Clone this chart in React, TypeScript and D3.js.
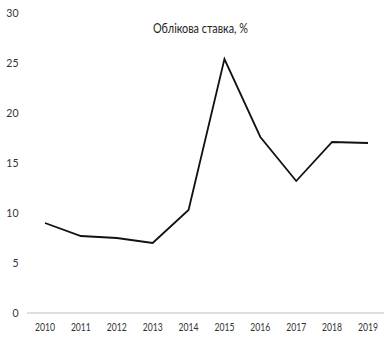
import React from "react";
import * as d3 from "d3";

const years = ["2010", "2011", "2012", "2013", "2014", "2015", "2016", "2017", "2018", "2019"];
const rates = [9.0, 7.7, 7.5, 7.0, 10.3, 25.4, 17.6, 13.2, 17.1, 17.0];
const yTicks = [0, 5, 10, 15, 20, 25, 30];
const title = "Облікова ставка, %";

export default function App() {
  const W = 384, H = 340;
  const x = d3.scalePoint<string>().domain(years).range([45, 368]);
  const y = d3.scaleLinear().domain([0, 30]).range([313, 13]);
  const line = d3.line<number>().x((_, i) => x(years[i])!).y((d) => y(d));
  const font = "Lato, 'Open Sans', sans-serif";
  return (
    <svg width={W} height={H} style={{ position: "absolute", left: 0, top: 0, background: "#fff" }}>
      <rect width={W} height={H} fill="#fff" />
      <text x={200.5} y={33} textAnchor="middle" fontFamily={font} fontSize={13} fill="#222"
        textLength={95} lengthAdjust="spacingAndGlyphs">{title}</text>
      {yTicks.map((t) => (
        <text key={t} x={18.5} y={y(t) + 4} textAnchor="end" fontFamily={font} fontSize={10.5} fill="#333">{t}</text>
      ))}
      <line x1={27} x2={384} y1={y(0)} y2={y(0)} stroke="#bfbfbf" strokeWidth={1} />
      {years.map((yr) => (
        <text key={yr} x={x(yr)!} y={331} textAnchor="middle" fontFamily={font} fontSize={10.5} fill="#333"
          textLength={20} lengthAdjust="spacingAndGlyphs">{yr}</text>
      ))}
      <path d={line(rates)!} fill="none" stroke="#111" strokeWidth={1.8} strokeLinejoin="miter" />
    </svg>
  );
}
